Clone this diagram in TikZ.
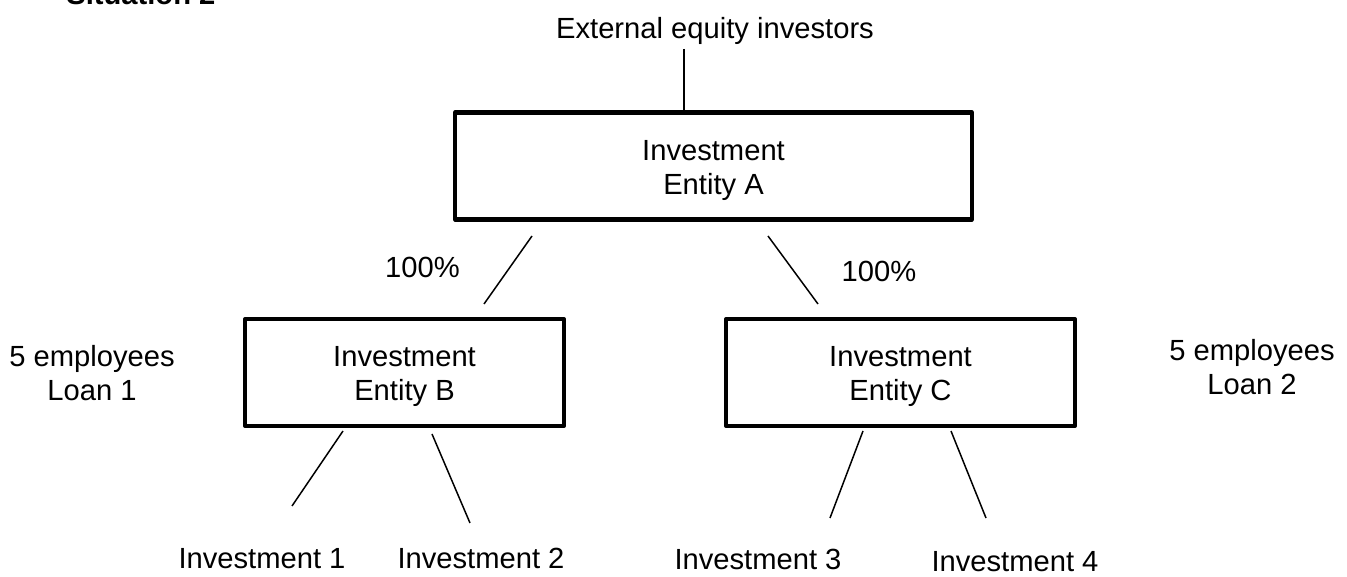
\documentclass[tikz,border=0pt]{standalone}
\usepackage{fontspec}
\setmainfont{Liberation Sans}
\begin{document}
\begin{tikzpicture}[x=0.02cm, y=-0.02cm,
        every node/.style={font=\fontsize{16.6pt}{19.3pt}\selectfont},
        entity/.style={draw, line width=2.3pt, line join=round, minimum height=2.14cm, inner sep=0pt},
        link/.style={line width=0.85pt}]
        \renewcommand{\arraystretch}{1} % line spacing in the tabular environment
        \useasboundingbox (0,0) rectangle (1347,577);

        % Title
        \node[anchor=base west, inner sep=0pt, font=\fontsize{16.6pt}{19.3pt}\selectfont\bfseries] (title) at (66,5) {Situation 2};
        \node[anchor=base] (investors) at (715,39) {External equity investors};

        % Blocks
        \node[entity, minimum width=10.34cm] (entityA) at (713.5,166) {
            \raisebox{-0.1cm}[\height][\depth]{\begin{tabular}{c}
                Investment \\
                Entity A
            \end{tabular}}
        };
        \node[entity, minimum width=6.38cm] (entityB) at (404.5,372.5) {
            \raisebox{-0.08cm}[\height][\depth]{\begin{tabular}{c}
                Investment \\
                Entity B
            \end{tabular}}
        };
        \node[entity, minimum width=6.98cm] (entityC) at (900.5,372.5) {
            \raisebox{-0.08cm}[\height][\depth]{\begin{tabular}{c}
                Investment \\
                Entity C
            \end{tabular}}
        };

        % Side notes
        \node (notesB) at (92,377) {
            \begin{tabular}{c}
                5 employees \\
                Loan 1
            \end{tabular}
        };
        \node (notesC) at (1252,371) {
            \begin{tabular}{c}
                5 employees \\
                Loan 2
            \end{tabular}
        };

        % Shares
        \node[anchor=base] (shareB) at (422.5,278) {100\%};
        \node[anchor=base] (shareC) at (879,282) {100\%};

        % Investments
        \node[anchor=base] (invest1) at (262,569) {Investment 1};
        \node[anchor=base] (invest2) at (481,569) {Investment 2};
        \node[anchor=base] (invest3) at (758,570) {Investment 3};
        \node[anchor=base] (invest4) at (1015,572) {Investment 4};

        % Line ends
        \coordinate (topA) at (684,49);
        \coordinate (outAB) at (532,236);
        \coordinate (inB) at (484,304);
        \coordinate (outAC) at (768,236);
        \coordinate (inC) at (818,304);
        \coordinate (outB1) at (343,431);
        \coordinate (in1) at (292,506);
        \coordinate (outB2) at (432,434);
        \coordinate (in2) at (470,523);
        \coordinate (outC3) at (863,431);
        \coordinate (in3) at (830,518);
        \coordinate (outC4) at (951,431);
        \coordinate (in4) at (986,518);

        % Lines
        \draw[link] (topA) -- (topA |- entityA.north);
        \draw[link] (outAB) -- (inB);
        \draw[link] (outAC) -- (inC);
        \draw[link] (outB1) -- (in1);
        \draw[link] (outB2) -- (in2);
        \draw[link] (outC3) -- (in3);
        \draw[link] (outC4) -- (in4);

    \end{tikzpicture}
\end{document}
